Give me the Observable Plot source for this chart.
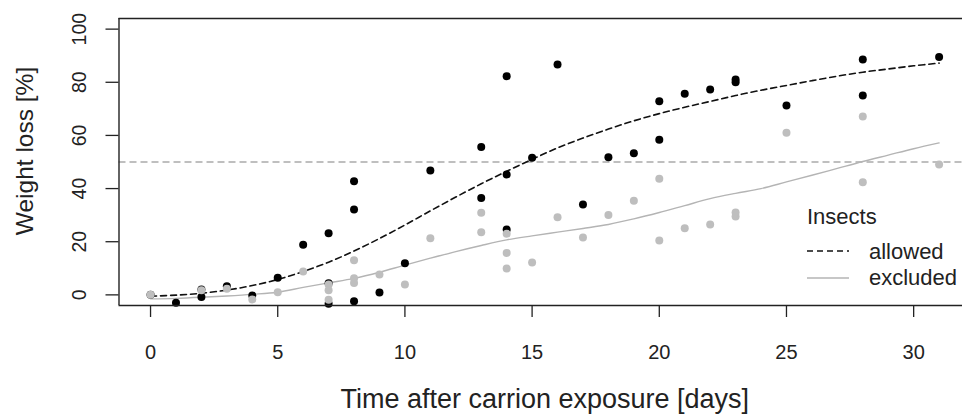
<!DOCTYPE html>
<html>
<head>
<meta charset="utf-8">
<script src="https://cdn.jsdelivr.net/npm/d3@7"></script>
<script src="https://cdn.jsdelivr.net/npm/@observablehq/plot@0.6"></script>
<style>
  html, body { margin: 0; padding: 0; background: #fff; overflow: hidden; }
  #wrap { position: relative; width: 962px; height: 416px; font-family: "Liberation Sans", Arial, Helvetica, sans-serif; }
  .lg { position: absolute; font-size: 22px; color: #222; white-space: nowrap; line-height: 1; }
  .key { position: absolute; }
</style>
</head>
<body>
<div id="wrap"></div>
<script>
// ---- data ----
const allowedDays = [0, 1, 2, 2, 3, 4, 5, 6, 7, 7, 7, 8, 8, 8, 9, 10, 11, 13, 13, 14, 14, 14, 15, 16, 17, 18, 19, 20, 20, 21, 22, 23, 23, 25, 28, 28, 31];
const allowedLoss = [0, -3.0, 2.0, -0.8, 3.2, -0.2, 6.4, 18.9, 23.2, 4.4, -3.3, 42.8, 32.1, -2.4, 0.9, 11.9, 46.8, 55.6, 36.5, 82.3, 45.3, 24.6, 51.6, 86.7, 34.0, 51.8, 53.3, 72.9, 58.4, 75.7, 77.3, 80.0, 81.0, 71.3, 88.6, 75.0, 89.5];

const excludedDays = [0, 2, 3, 4, 5, 6, 7, 7, 7, 8, 8, 8, 9, 10, 11, 13, 13, 14, 14, 14, 15, 16, 17, 18, 19, 20, 20, 21, 22, 23, 23, 25, 28, 28, 31];
const excludedLoss = [0, 1.7, 2.3, -1.7, 1.0, 8.8, 3.9, 1.7, -1.8, 13.0, 6.3, 4.5, 7.7, 3.9, 21.3, 30.9, 23.6, 23.0, 15.8, 9.9, 12.2, 29.2, 21.6, 30.1, 35.4, 43.7, 20.5, 25.1, 26.5, 29.5, 31.0, 61.0, 67.1, 42.4, 49.1];

// fitted curves
const fitDays = [0, 1, 2, 3, 4, 5, 6, 7, 8, 9, 10, 11, 12, 13, 14, 15, 16, 17, 18, 19, 20, 21, 22, 23, 24, 25, 26, 27, 28, 29, 30, 31];
const allowedFit = [-0.5, -0.1, 0.6, 1.8, 3.5, 5.8, 8.8, 12.3, 16.5, 21.2, 26.3, 31.6, 36.8, 41.8, 46.5, 51.0, 55.3, 59.0, 62.4, 65.5, 68.2, 70.6, 72.8, 75.0, 77.0, 78.8, 80.6, 82.3, 83.8, 85.0, 86.2, 87.2];
const excludedFit = [-1.5, -1.3, -0.9, -0.4, 0.2, 1.0, 2.8, 4.5, 6.2, 8.5, 11.2, 13.8, 16.3, 18.6, 20.7, 22.2, 23.6, 25.0, 26.5, 28.6, 31.0, 33.6, 36.2, 38.2, 40.0, 42.5, 45.0, 47.6, 50.2, 52.6, 55.0, 57.2];

const refLine = [50];
const xTicks = [0, 5, 10, 15, 20, 25, 30];
const yTicks = [0, 20, 40, 60, 80, 100];
const xTitle = "Time after carrion exposure [days]";
const yTitle = "Weight loss [%]";
const legendTitle = "Insects";
const groups = ["allowed", "excluded"];

// ---- tables ----
const allowedPts = allowedDays.map((d, i) => ({day: d, loss: allowedLoss[i]}));
const excludedPts = excludedDays.map((d, i) => ({day: d, loss: excludedLoss[i]}));
const allowedCurve = fitDays.map((d, i) => ({day: d, loss: allowedFit[i]}));
const excludedCurve = fitDays.map((d, i) => ({day: d, loss: excludedFit[i]}));

const xDomain = [-1.24, 31.92];
const yDomain = [-4, 104];
const BLACK = "#000";
const GREY = "#bebebe";
const BOX = "#222";

const chart = Plot.plot({
  width: 962,
  height: 416,
  marginLeft: 118.5,
  marginRight: 0,
  marginTop: 18,
  marginBottom: 111,
  x: {domain: xDomain},
  y: {domain: yDomain},
  style: {fontFamily: '"Liberation Sans", Arial, Helvetica, sans-serif', color: "#222", background: "#fff", overflow: "visible"},
  marks: [
    Plot.ruleY(refLine, {stroke: "#aaa", strokeWidth: 1.5, strokeDasharray: "7,4"}),
    Plot.line(allowedCurve, {x: "day", y: "loss", stroke: "#111", strokeWidth: 1.6, strokeDasharray: "6,4", curve: "catmull-rom"}),
    Plot.line(excludedCurve, {x: "day", y: "loss", stroke: "#b4b4b4", strokeWidth: 1.4, curve: "catmull-rom"}),
    Plot.dot(allowedPts, {x: "day", y: "loss", r: 4, fill: BLACK, stroke: "none"}),
    Plot.dot(excludedPts, {x: "day", y: "loss", r: 4, fill: GREY, stroke: "none"}),
    // box (left, top, bottom; right side lies beyond the picture)
    Plot.ruleX([xDomain[0]], {stroke: BOX, strokeWidth: 1.4}),
    Plot.ruleY([yDomain[0], yDomain[1]], {stroke: BOX, strokeWidth: 1.4}),
    Plot.axisX({ticks: xTicks, tickSize: 12, tickPadding: 27, fontSize: 20, label: null, stroke: BOX, strokeWidth: 1.3}),
    Plot.axisY({ticks: yTicks, tickSize: 13, tickFormat: () => "", label: null, stroke: BOX, strokeWidth: 1.3}),
    Plot.text(yTicks, {y: d => d, text: d => String(d), frameAnchor: "left", textAnchor: "middle", lineAnchor: "middle", dx: -39, rotate: -90, fontSize: 19.5, fill: "#222"}),
    Plot.text([xTitle], {frameAnchor: "bottom", textAnchor: "middle", lineAnchor: "middle", dy: 94, dx: 4, fontSize: 27, fill: "#222"}),
    Plot.text([yTitle], {frameAnchor: "left", textAnchor: "middle", lineAnchor: "middle", dx: -94, dy: -11, rotate: -90, fontSize: 24.5, fill: "#222"})
  ]
});

const wrap = document.getElementById("wrap");
wrap.appendChild(chart);

// legend (top-right inside the plot)
function addText(txt, left, cy) {
  const d = document.createElement("div");
  d.className = "lg";
  d.textContent = txt;
  d.style.left = left + "px";
  d.style.top = (cy - 11) + "px";
  wrap.appendChild(d);
}
function addKey(cy, stroke, dash, width) {
  const ns = "http://www.w3.org/2000/svg";
  const s = document.createElementNS(ns, "svg");
  s.setAttribute("class", "key");
  s.setAttribute("width", 44);
  s.setAttribute("height", 6);
  s.style.left = "806px";
  s.style.top = (cy - 3) + "px";
  s.style.position = "absolute";
  const l = document.createElementNS(ns, "line");
  l.setAttribute("x1", 1); l.setAttribute("x2", 43);
  l.setAttribute("y1", 3); l.setAttribute("y2", 3);
  l.setAttribute("stroke", stroke);
  l.setAttribute("stroke-width", width);
  if (dash) l.setAttribute("stroke-dasharray", dash);
  s.appendChild(l);
  wrap.appendChild(s);
}
addText(legendTitle, 807, 217);
addKey(251, "#111", "6,4", 1.6);
addText(groups[0], 869, 252);
addKey(278, "#b4b4b4", null, 1.4);
addText(groups[1], 869, 278);
</script>
</body>
</html>
